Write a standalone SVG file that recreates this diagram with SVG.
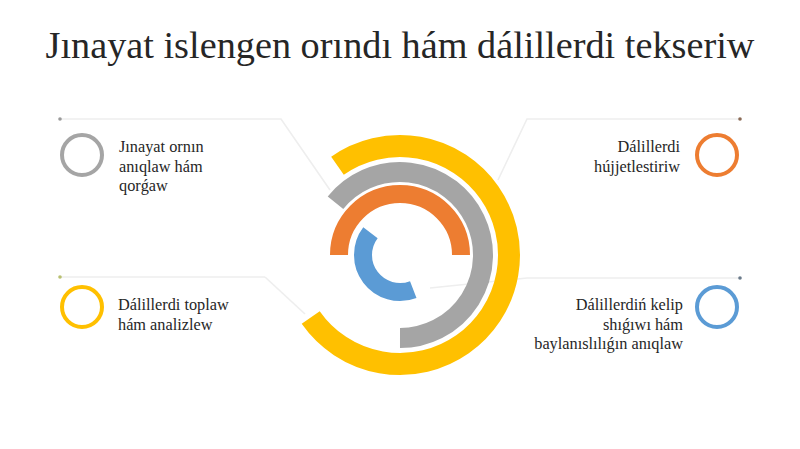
<svg xmlns="http://www.w3.org/2000/svg" width="800" height="449" viewBox="0 0 800 449">
<style>
.title{font-family:"Liberation Serif","DejaVu Serif",serif;font-size:38px;fill:#262626}
.lbl{font-family:"Liberation Serif","DejaVu Serif",serif;font-size:16.3px;fill:#262626}
.ring{fill:none;stroke-linecap:butt}
.conn{fill:none;stroke:#eeeeee;stroke-width:1.6}
.icon{fill:#ffffff;stroke-width:4}
</style>
<rect width="800" height="449" fill="#ffffff"/>
<text class="title" x="400" y="58" text-anchor="middle" textLength="709" lengthAdjust="spacingAndGlyphs">Jınayat islengen orındı hám dálillerdi tekseriw</text>
<g id="connectors">
<polyline class="conn" points="60,119 281,119 330,190"/>
<polyline class="conn" points="740,119 527,119 498,180"/>
<polyline class="conn" points="60,277 265,277" stroke="#f7f7f7"/>
<polyline class="conn" points="265,277 305,314" stroke="#f1ecd8"/>
<polyline class="conn" points="740,278 527,278 430,288"/>
<circle cx="60" cy="119" r="1.8" fill="#9a9a9a"/>
<circle cx="740" cy="119" r="1.8" fill="#8a6a55"/>
<circle cx="60" cy="277" r="1.8" fill="#b8c070"/>
<circle cx="740" cy="278" r="1.8" fill="#6a7a8a"/>
</g>
<g id="rings">
<path class="ring" d="M337.48,165.71 A109,109 0 1 1 310.71,317.52" stroke="#FFC000" stroke-width="22"/>
<path class="ring" d="M335.5,202.77 A83,83 0 1 1 400,338" stroke="#A5A5A5" stroke-width="20"/>
<path class="ring" d="M339,255 A61,61 0 0 1 461,255" stroke="#ED7D31" stroke-width="18"/>
<path class="ring" d="M370.45,232.73 A37,37 0 0 0 413.26,289.54" stroke="#5B9BD5" stroke-width="18"/>
</g>
<g id="node1">
<circle class="icon" cx="82" cy="155" r="20" stroke="#A5A5A5"/>
<text class="lbl" x="119" y="152">Jınayat ornın</text>
<text class="lbl" x="119" y="172">anıqlaw hám</text>
<text class="lbl" x="119" y="191">qorǵaw</text>
</g>
<g id="node2">
<circle class="icon" cx="717" cy="155" r="20" stroke="#ED7D31"/>
<text class="lbl" x="680" y="152" text-anchor="end">Dálillerdi</text>
<text class="lbl" x="680" y="172" text-anchor="end">hújjetlestiriw</text>
</g>
<g id="node3">
<circle class="icon" cx="82" cy="307" r="20" stroke="#FFC000"/>
<text class="lbl" x="118" y="310">Dálillerdi toplaw</text>
<text class="lbl" x="118" y="330">hám analizlew</text>
</g>
<g id="node4">
<circle class="icon" cx="717" cy="307" r="20" stroke="#5B9BD5"/>
<text class="lbl" x="683" y="310" text-anchor="end">Dálillerdiń kelip</text>
<text class="lbl" x="683" y="330" text-anchor="end">shıǵıwı hám</text>
<text class="lbl" x="683" y="349" text-anchor="end">baylanıslılıǵın anıqlaw</text>
</g>
</svg>
